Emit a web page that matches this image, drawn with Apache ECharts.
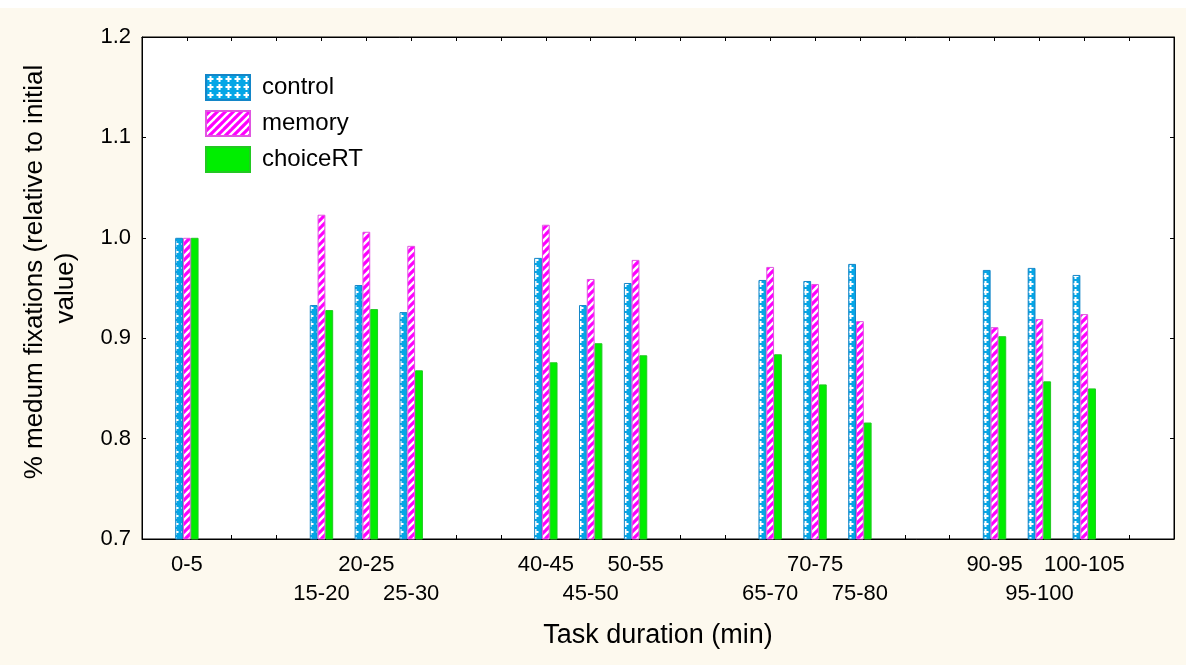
<!DOCTYPE html>
<html>
<head>
<meta charset="utf-8">
<script src="https://cdn.jsdelivr.net/npm/echarts@6/dist/echarts.min.js"></script>
<style>
  html, body { margin: 0; padding: 0; background: #ffffff; }
  #chart { width: 1186px; height: 665px; }
</style>
</head>
<body>
<div id="chart"></div>
<script>
// Task-duration bins (minutes) that have measurements
const categories = ['0-5', '15-20', '20-25', '25-30', '40-45', '45-50', '50-55',
                    '65-70', '70-75', '75-80', '90-95', '95-100', '100-105'];

// Medium fixations relative to the initial value, per condition
const controlValues  = [1.000, 0.933, 0.953, 0.926, 0.980, 0.933, 0.955, 0.958, 0.957, 0.974, 0.968, 0.970, 0.963];
const memoryValues   = [1.000, 1.023, 1.006, 0.992, 1.013, 0.959, 0.978, 0.971, 0.954, 0.917, 0.911, 0.919, 0.924];
const choiceRTValues = [1.000, 0.928, 0.929, 0.868, 0.876, 0.895, 0.883, 0.884, 0.854, 0.816, 0.902, 0.857, 0.850];

const seriesNames = ['control', 'memory', 'choiceRT'];
const yTicks = [0.7, 0.8, 0.9, 1.0, 1.1, 1.2];

// Each bin sits at its position on a 5-minute grid (0-5 -> 0, 15-20 -> 3, ...)
const binIndex = categories.map(c => parseInt(c.split('-')[0], 10) / 5);
const labelByIndex = {};
categories.forEach((c, i) => { labelByIndex[binIndex[i]] = (i % 2 === 1 ? '\n' : '') + c; });

// Fill patterns
function crossPattern() {
  const cv = document.createElement('canvas');
  cv.width = 9; cv.height = 8;
  const g = cv.getContext('2d');
  g.fillStyle = '#05a6e6'; g.fillRect(0, 0, 9, 8);
  g.fillStyle = '#ffffff';
  g.fillRect(3.5, 1, 2, 6);
  g.fillRect(1.5, 3, 6, 2);
  return { image: cv, repeat: 'repeat' };
}
function stripePattern() {
  const n = 8;
  const cv = document.createElement('canvas');
  cv.width = n; cv.height = n;
  const g = cv.getContext('2d');
  g.fillStyle = '#ff00ff'; g.fillRect(0, 0, n, n);
  g.strokeStyle = '#ffffff'; g.lineWidth = 2.4;
  for (let k = -1; k <= 1; k++) {
    g.beginPath();
    g.moveTo(k * n - 1, n + 1);
    g.lineTo(k * n + n + 1, -1);
    g.stroke();
  }
  return { image: cv, repeat: 'repeat' };
}

const FONT = '"Liberation Sans", Arial, sans-serif';
const chart = echarts.init(document.getElementById('chart'), null, { renderer: 'canvas' });

function makeBar(name, values, color, border) {
  return {
    name: name,
    type: 'bar',
    xAxisIndex: 0,
    yAxisIndex: 0,
    barWidth: 7.8,
    barGap: '0%',
    itemStyle: { color: color, borderColor: border, borderWidth: 1 },
    data: values.map((v, i) => [binIndex[i], v])
  };
}

const axisCommon = {
  axisLine: { show: true, onZero: false, lineStyle: { color: '#000', width: 1 } },
  axisTick: { show: true, inside: true, length: 4, lineStyle: { color: '#000' } },
  splitLine: { show: false }
};

chart.setOption({
  backgroundColor: '#fdf9ee',
  animation: false,
  graphic: [{
    type: 'rect', left: 0, top: 0, z: -10,
    shape: { width: 1186, height: 8 },
    style: { fill: '#ffffff' }
  }],
  grid: {
    left: 142, right: 12, top: 37, bottom: 126,
    show: true, backgroundColor: '#ffffff', borderColor: '#000', borderWidth: 1
  },
  legend: {
    orient: 'vertical',
    left: 205, top: 74, padding: 0,
    itemWidth: 44, itemHeight: 25, itemGap: 9,
    icon: 'rect',
    data: seriesNames,
    textStyle: { fontFamily: FONT, fontSize: 24, color: '#000', padding: [0, 0, 0, 7] }
  },
  xAxis: [
    Object.assign({}, axisCommon, {
      type: 'value', position: 'bottom',
      min: -1, max: 22, interval: 1,
      name: 'Task duration (min)', nameLocation: 'middle', nameGap: 83,
      nameTextStyle: { fontFamily: FONT, fontSize: 27, color: '#000' },
      axisLabel: {
        fontFamily: FONT, fontSize: 22, color: '#000', margin: 11, lineHeight: 29,
        formatter: v => labelByIndex[v] || ''
      }
    }),
    Object.assign({}, axisCommon, {
      type: 'value', position: 'top',
      min: -1, max: 22, interval: 1,
      axisLabel: { show: false }
    })
  ],
  yAxis: [
    Object.assign({}, axisCommon, {
      type: 'value', position: 'left',
      min: yTicks[0], max: yTicks[yTicks.length - 1], interval: 0.1,
      name: '{a|% medum fixations (relative to initial}\n{b|value)}',
      nameLocation: 'middle', nameGap: 61, nameRotate: 90,
      nameTextStyle: {
        fontFamily: FONT, fontSize: 26, color: '#000', lineHeight: 31, align: 'center',
        padding: [0, 0, 0, 32],
        rich: {
          a: { fontFamily: FONT, fontSize: 26, color: '#000', lineHeight: 31 },
          b: { fontFamily: FONT, fontSize: 26, color: '#000', lineHeight: 31, padding: [0, 32, 0, 0] }
        }
      },
      axisLabel: {
        fontFamily: FONT, fontSize: 22, color: '#000', margin: 11,
        formatter: v => v.toFixed(1)
      }
    }),
    Object.assign({}, axisCommon, {
      type: 'value', position: 'right',
      min: yTicks[0], max: yTicks[yTicks.length - 1], interval: 0.1,
      axisLabel: { show: false }
    })
  ],
  series: [
    makeBar(seriesNames[0], controlValues, crossPattern(), '#1486c8'),
    makeBar(seriesNames[1], memoryValues, stripePattern(), '#e055e0'),
    makeBar(seriesNames[2], choiceRTValues, '#00ee00', '#22c822')
  ]
});
</script>
</body>
</html>
